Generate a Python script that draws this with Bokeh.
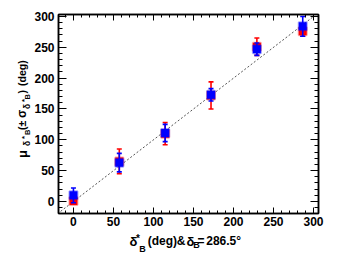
import numpy as np
from bokeh.plotting import figure
from bokeh.layouts import row, column
from bokeh.models import LinearAxis, SingleIntervalTicker, Range1d, CustomJSTickFormatter
from bokeh.core.properties import value
from bokeh.embed import file_html
from bokeh.resources import INLINE

# ---- data ----
delta_star = [0.0, 57.3, 114.6, 171.9, 229.2, 286.5]
mu_blue = [10, 63, 111, 173, 247, 284]
sig_blue = [12, 15, 14, 10, 10, 16]
mu_red = [1, 65, 110, 172, 251, 276]
sig_red = [3, 20, 18, 22, 14, 8]
diag = [-20, 300]
ticks_major = 50

# ---- layout constants (page pixels) ----
W, H = 353, 254
YLW = 31          # width of the y-title strip
XLH = 23          # height of the x-title strip
X0, X1 = -18.67, 306.2
Y0, Y1 = -19.46, 303.2
FL, FR, FT, FB = 57, 318, 14, 213  # frame edges in page px
FONT = "Liberation Sans"

MW, MH = W - YLW, H - XLH
p = figure(width=MW, height=MH, x_range=Range1d(X0, X1), y_range=Range1d(Y0, Y1),
           output_backend="svg", toolbar_location=None,
           min_border_left=FL - YLW, min_border_right=W - FR,
           min_border_top=FT, min_border_bottom=MH - FB)
p.grid.visible = False
p.outline_line_color = "black"
p.outline_line_width = 1.5
p.background_fill_color = "white"
p.border_fill_color = "white"

def style_axis(ax, tin, minin, labels=True):
    ax.ticker = SingleIntervalTicker(interval=ticks_major, num_minor_ticks=5)
    ax.major_tick_in = tin
    ax.major_tick_out = 0
    ax.minor_tick_in = minin
    ax.minor_tick_out = 0
    ax.axis_line_color = "black"
    ax.axis_line_width = 1.5
    ax.major_tick_line_color = "black"
    ax.minor_tick_line_color = "black"
    ax.major_tick_line_width = 1
    ax.minor_tick_line_width = 1
    ax.major_label_text_font = FONT
    ax.major_label_text_font_style = "bold"
    ax.major_label_text_font_size = "12px"
    ax.major_label_text_color = "black"
    if not labels:
        ax.formatter = CustomJSTickFormatter(code="return ''")
        ax.major_label_standoff = 0

style_axis(p.xaxis[0], 6, 3)
p.xaxis[0].major_label_standoff = 3
style_axis(p.yaxis[0], 8, 4)
p.yaxis[0].major_label_standoff = 4

top = LinearAxis()
style_axis(top, 6, 3, labels=False)
p.add_layout(top, "above")
right = LinearAxis()
style_axis(right, 8, 4, labels=False)
p.add_layout(right, "right")

# diagonal reference
p.line(diag, diag, line_color="#555555", line_dash="2 2", line_width=1)

ds = np.array(delta_star)
for mu, sg, col in [(np.array(mu_red), np.array(sig_red), "#ff0000"),
                    (np.array(mu_blue), np.array(sig_blue), "#0000ff")]:
    p.segment(x0=ds, y0=mu - sg, x1=ds, y1=mu + sg, line_color=col, line_width=1.6)
    p.scatter(ds, mu + sg, marker="dash", size=5, line_color=col, line_width=1.6)
    p.scatter(ds, mu - sg, marker="dash", size=5, line_color=col, line_width=1.6)
    p.scatter(ds, mu, marker="square", size=8, fill_color=col, line_color=col,
              line_alpha=0.35, line_width=2)


def text_strip(w, h):
    f = figure(width=w, height=h, x_range=Range1d(0, w), y_range=Range1d(h, 0),
               output_backend="svg", toolbar_location=None,
               min_border=0, min_border_left=0, min_border_right=0,
               min_border_top=0, min_border_bottom=0,
               x_axis_type=None, y_axis_type=None)
    f.grid.visible = False
    f.outline_line_color = None
    f.background_fill_color = "white"
    f.border_fill_color = "white"
    return f

xs = text_strip(MW, XLH)
ys = text_strip(YLW, H)

def put(fig, ox, oy, txt, px, py, size, angle=0.0):
    fig.text(x=[px - ox], y=[py - oy], text=[txt], angle=angle,
             text_font=value(FONT), text_font_size=f"{size}px",
             text_font_style="bold", text_color="black",
             text_align="left", text_baseline="alphabetic")

# x-axis title: δ*_B (deg) & δ_B= 286.5°
for t, px, py, s in [("δ", 119, 240.5, 13), ("*", 127, 238, 10), ("B", 131, 248, 9),
                     ("(deg)", 141.5, 240.5, 12), ("&", 177.5, 240.5, 12),
                     ("δ", 189.5, 240.5, 13), ("B", 198, 244.5, 9),
                     ("=", 203, 240.5, 12), ("286.5°", 214, 240.5, 12)]:
    put(xs, YLW, MH, t, px, py, s)

# y-axis title: μ_{δ*B} (± σ_{δ*B}) (deg)
A = np.pi / 2
for t, px, py, s in [("μ", 21.5, 157.5, 13), ("δ", 26.8, 145.5, 8.5), ("*", 24, 138.5, 8),
                     ("B", 27.3, 134.5, 7.5), ("(±", 21.5, 129.5, 10.5), ("σ", 21.5, 117.5, 12),
                     ("δ", 26.8, 108.5, 8.5), ("*", 24, 101.5, 8), ("B", 27.3, 99, 7.5),
                     (")", 21.5, 93, 10.5), ("(deg)", 21.5, 85.5, 10.5)]:
    put(ys, 0, 0, t, px, py, s, A)

layout = row(ys, column(p, xs, spacing=0), spacing=0)
open("out.html", "w").write(file_html(layout, INLINE))
